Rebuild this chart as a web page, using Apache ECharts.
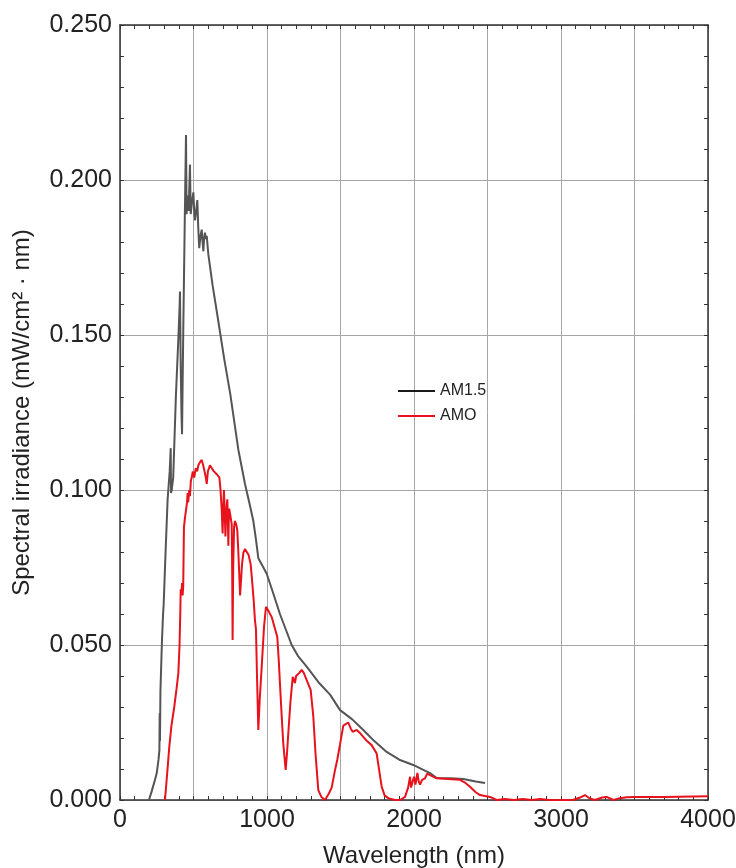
<!DOCTYPE html>
<html>
<head>
<meta charset="utf-8">
<script src="https://cdn.jsdelivr.net/npm/echarts@6/dist/echarts.min.js"></script>
<style>
  html, body { margin: 0; padding: 0; background: #fff; }
  #chart { width: 736px; height: 868px; }
</style>
</head>
<body>
<div id="chart"></div>
<script>
// Solar spectral irradiance, wavelength (nm) vs irradiance (mW/cm²·nm)
const seriesNames = ['AM1.5', 'AMO'];

const am15 = [
  [197,0],[215,0.0027],[235,0.006],[250,0.0087],[262,0.013],[268,0.016],[270,0.028],[272,0.019],
  [275,0.035],[282,0.046],[286,0.052],[293,0.060],[297,0.063],[310,0.080],[324,0.097],[338,0.106],
  [345,0.1135],[347,0.099],[352,0.100],[362,0.104],[380,0.130],[398,0.150],[406,0.160],[408,0.164],
  [413,0.140],[418,0.125],[422,0.118],[430,0.150],[440,0.185],[449,0.2145],[453,0.189],[460,0.195],
  [467,0.190],[476,0.205],[481,0.189],[490,0.193],[499,0.196],[505,0.190],[510,0.187],[518,0.190],
  [526,0.1935],[532,0.185],[539,0.178],[548,0.182],[556,0.184],[562,0.180],[567,0.177],[572,0.181],
  [578,0.183],[584,0.181],[590,0.182],[601,0.176],[630,0.166],[667,0.155],[710,0.142],[750,0.131],
  [805,0.113],[850,0.102],[884,0.095],[907,0.090],[925,0.084],[941,0.078],[970,0.0755],[998,0.073],
  [1040,0.067],[1088,0.060],[1168,0.050],[1210,0.0465],[1270,0.043],[1350,0.038],[1429,0.034],
  [1497,0.029],[1580,0.026],[1655,0.0226],[1730,0.019],[1814,0.0155],[1900,0.013],[1995,0.0113],
  [2060,0.0098],[2109,0.0087],[2154,0.0071],[2250,0.007],[2336,0.0068],[2420,0.006],[2483,0.0055]
];

const amo = [
  [306,0],[320,0.008],[335,0.017],[350,0.024],[369,0.030],[385,0.036],[397,0.041],[405,0.050],
  [410,0.060],[413,0.068],[418,0.066],[422,0.070],[426,0.066],[430,0.069],[435,0.088],[442,0.091],
  [449,0.0935],[456,0.096],[460,0.099],[464,0.096],[471,0.100],[476,0.098],[482,0.103],[488,0.104],
  [495,0.106],[505,0.104],[515,0.107],[525,0.106],[533,0.108],[545,0.109],[556,0.1097],[566,0.108],
  [575,0.108],[584,0.104],[590,0.102],[598,0.106],[612,0.108],[625,0.107],[639,0.106],[660,0.105],
  [676,0.104],[684,0.100],[692,0.0935],[698,0.086],[703,0.095],[707,0.100],[713,0.092],[717,0.085],
  [721,0.090],[726,0.095],[730,0.097],[734,0.090],[737,0.082],[740,0.090],[743,0.094],[750,0.092],
  [760,0.089],[763,0.075],[766,0.0516],[770,0.075],[776,0.088],[782,0.090],[790,0.089],[798,0.087],
  [805,0.080],[812,0.072],[817,0.066],[821,0.0655],[830,0.076],[839,0.0797],[850,0.081],[862,0.081],
  [875,0.079],[889,0.076],[900,0.070],[910,0.064],[918,0.058],[925,0.055],[932,0.040],[941,0.0226],
  [950,0.032],[964,0.043],[980,0.056],[993,0.0623],[1010,0.061],[1032,0.059],[1050,0.056],[1070,0.0526],
  [1080,0.045],[1088,0.0377],[1100,0.027],[1111,0.018],[1127,0.0097],[1136,0.015],[1145,0.0216],
  [1160,0.032],[1175,0.0397],[1182,0.039],[1190,0.0377],[1198,0.040],[1206,0.040],[1220,0.041],
  [1236,0.042],[1250,0.041],[1270,0.0387],[1297,0.0355],[1315,0.027],[1330,0.015],[1349,0.0032],
  [1370,0.001],[1395,0],[1420,0.002],[1440,0.004],[1463,0.0097],[1478,0.013],[1497,0.018],[1519,0.024],
  [1553,0.025],[1570,0.023],[1583,0.022],[1610,0.0226],[1633,0.0216],[1680,0.019],[1712,0.0177],
  [1746,0.015],[1765,0.009],[1780,0.0043],[1800,0.0015],[1825,0.0006],[1870,0],[1905,0],[1939,0.001],
  [1960,0.004],[1973,0.0075],[1980,0.004],[1990,0.0045],[2000,0.0075],[2010,0.005],[2023,0.0087],
  [2032,0.006],[2041,0.005],[2055,0.0065],[2075,0.007],[2090,0.0085],[2109,0.008],[2154,0.007],
  [2230,0.0068],[2313,0.0065],[2350,0.0055],[2381,0.0043],[2420,0.0025],[2449,0.0016],[2517,0.001],
  [2562,0],[2620,0.0003],[2680,0],[2740,0.0003],[2800,0],[2860,0.0003],[2920,0],[3000,0],[3080,0],
  [3130,0.0008],[3163,0.0016],[3195,0.0005],[3231,0],[3280,0.0008],[3311,0.001],[3356,0],[3400,0.0006],
  [3446,0.0009],[3500,0.001],[3700,0.001],[4000,0.0012]
];

const xTicks = [0, 1000, 2000, 3000, 4000];
const yTicks = ['0.000', '0.050', '0.100', '0.150', '0.200', '0.250'];

const FONT = "'Liberation Sans', Arial, sans-serif";
const TEXT = '#222';
const frameLine = { show: true, onZero: false, lineStyle: { color: '#333', width: 1.5 } };
const tickIn = { show: true, inside: true, length: 4, lineStyle: { color: '#333', width: 1 } };
const gridLine = { show: true, lineStyle: { color: '#a6a6a6', width: 1 } };
const off = { show: false };
const lineOff = { show: false, onZero: false };

// Fine inward ticks on every side of the frame (100 nm / 0.01 steps)
const xFrame = (position) => ({
  type: 'value', position, min: 0, max: 4000, interval: 100,
  axisLine: frameLine, axisTick: tickIn, splitLine: off, axisLabel: { show: false }
});
const yFrame = (position) => ({
  type: 'value', position, min: 0, max: 0.25, interval: 0.01,
  axisLine: frameLine, axisTick: tickIn, splitLine: off, axisLabel: { show: false }
});

const chart = echarts.init(document.getElementById('chart'), null, { renderer: 'canvas' });
chart.setOption({
  backgroundColor: '#fff',
  animation: false,
  textStyle: { fontFamily: FONT },
  grid: { left: 120, right: 28, top: 25, bottom: 68, containLabel: false, outerBoundsMode: 'none' },
  legend: {
    orient: 'vertical', left: 398, top: 383, padding: 0, icon: 'rect', itemWidth: 37, itemHeight: 2,
    itemGap: 9, textStyle: { fontSize: 16, color: TEXT, fontFamily: FONT },
    data: [
      { name: seriesNames[0], itemStyle: { color: '#1a1a1a' } },
      { name: seriesNames[1], itemStyle: { color: '#e8121d' } }
    ]
  },
  xAxis: [
    Object.assign(xFrame('bottom'), {
      name: 'Wavelength (nm)', nameLocation: 'middle', nameGap: 44,
      nameTextStyle: { fontSize: 24, color: TEXT, fontFamily: FONT },
      axisLabel: { show: true, fontSize: 25, color: TEXT, margin: 8, fontFamily: FONT,
        formatter: v => { const r = Math.round(v); return xTicks.indexOf(r) >= 0 ? String(r) : ''; } }
    }),
    xFrame('top'),
    // grid lines every 500 nm
    { type: 'value', position: 'bottom', min: 0, max: 4000, interval: 500,
      axisLine: lineOff, axisTick: off, axisLabel: off, splitLine: gridLine }
  ],
  yAxis: [
    Object.assign(yFrame('left'), {
      name: 'Spectral irradiance (mW/cm² · nm)', nameLocation: 'middle', nameGap: 86,
      nameTextStyle: { fontSize: 24, color: TEXT, fontFamily: FONT },
      axisLabel: { show: true, fontSize: 25, color: TEXT, margin: 8, fontFamily: FONT,
        formatter: v => { const m = Math.round(v * 1000); return m % 50 === 0 ? yTicks[m / 50] : ''; } }
    }),
    yFrame('right'),
    // grid lines every 0.05
    { type: 'value', position: 'left', min: 0, max: 0.25, interval: 0.05,
      axisLine: lineOff, axisTick: off, axisLabel: off, splitLine: gridLine }
  ],
  series: [
    { name: seriesNames[0], type: 'line', data: am15, showSymbol: false, symbol: 'none',
      xAxisIndex: 0, yAxisIndex: 0,
      lineStyle: { color: '#555', width: 2 }, itemStyle: { color: '#555' }, z: 3 },
    { name: seriesNames[1], type: 'line', data: amo, showSymbol: false, symbol: 'none',
      xAxisIndex: 0, yAxisIndex: 0,
      lineStyle: { color: '#e8121d', width: 2 }, itemStyle: { color: '#e8121d' }, z: 4 }
  ]
});
</script>
</body>
</html>
